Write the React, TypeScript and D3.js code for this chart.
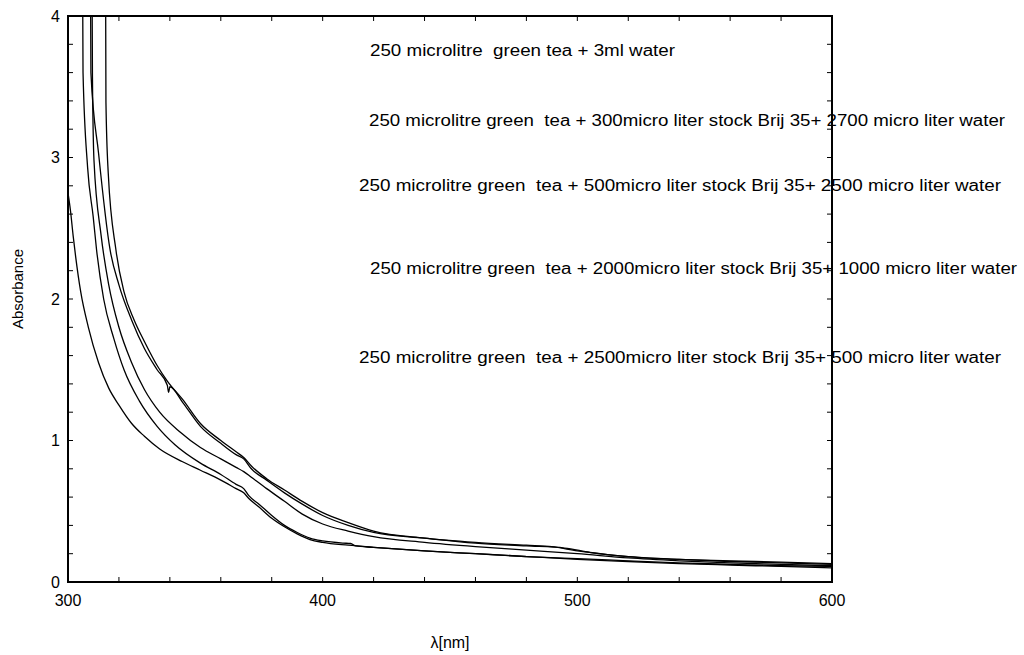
import React from 'react';
import * as d3 from 'd3';

// absorbance spectra, [wavelength nm, absorbance]
const spectrumA: [number, number][] = [
  [300, 2.75], [301, 2.62], [302, 2.45], [303, 2.3], [305, 2.05], [308, 1.8], [312, 1.55],
  [316, 1.37], [320, 1.25], [325, 1.12], [330, 1.03], [336, 0.94], [345, 0.85], [352, 0.79],
  [360, 0.72], [366, 0.66], [369, 0.63], [371, 0.59], [375, 0.53], [380, 0.45], [385, 0.39],
  [390, 0.34], [395, 0.3], [400, 0.28], [410, 0.26], [420, 0.245], [440, 0.22], [460, 0.2],
  [480, 0.18], [500, 0.16], [520, 0.145], [540, 0.13], [560, 0.12], [580, 0.11], [600, 0.1],
];
const spectrumB: [number, number][] = [
  [305.8, 4.0], [305.9, 3.6], [307.7, 2.93], [309.9, 2.58], [311.2, 2.35], [314, 2.0],
  [318, 1.72], [322, 1.5], [328, 1.28], [335, 1.1], [342, 0.97], [352, 0.84], [360, 0.76],
  [366, 0.69], [369, 0.66], [371, 0.61], [375, 0.55], [380, 0.47], [385, 0.4], [390, 0.35],
  [395, 0.31], [400, 0.29], [408, 0.275], [411, 0.272], [413, 0.255], [420, 0.245],
  [440, 0.22], [460, 0.2], [480, 0.18], [500, 0.165], [520, 0.15], [540, 0.135],
  [560, 0.125], [580, 0.115], [600, 0.11],
];
const spectrumC: [number, number][] = [
  [309.5, 4.0], [309.6, 3.57], [310.2, 2.98], [313, 2.45], [316, 2.1], [320, 1.8], [325, 1.55],
  [330, 1.36], [336, 1.2], [344, 1.06], [352, 0.95], [360, 0.87], [366, 0.81], [369, 0.78],
  [372, 0.74], [378, 0.66], [385, 0.57], [392, 0.48], [400, 0.41], [410, 0.36], [420, 0.32],
  [440, 0.28], [460, 0.25], [480, 0.225], [500, 0.2], [520, 0.17], [540, 0.15], [560, 0.135],
  [580, 0.125], [600, 0.115],
];
const spectrumD: [number, number][] = [
  [308.9, 4.0], [309, 3.6], [312, 3.03], [316.5, 2.35], [320, 2.1], [325, 1.85], [330, 1.65],
  [335, 1.5], [339, 1.39], [339.5, 1.34], [340, 1.38], [345, 1.27], [352, 1.1], [360, 0.98],
  [366, 0.9], [369, 0.87], [372, 0.8], [378, 0.72], [385, 0.63], [392, 0.55], [400, 0.47],
  [410, 0.4], [420, 0.35], [440, 0.31], [460, 0.275], [480, 0.255], [495, 0.24], [505, 0.21],
  [520, 0.18], [540, 0.16], [560, 0.145], [580, 0.135], [600, 0.125],
];
const spectrumE: [number, number][] = [
  [314.8, 4.0], [314.9, 3.39], [315.8, 2.89], [318.8, 2.35], [322, 2.05], [326, 1.85],
  [330, 1.7], [335, 1.53], [339, 1.42], [345, 1.29], [352, 1.12], [360, 1.0], [366, 0.92],
  [369, 0.88], [372, 0.82], [378, 0.73], [385, 0.65], [392, 0.57], [400, 0.49], [410, 0.42],
  [420, 0.36], [440, 0.31], [460, 0.28], [480, 0.26], [490, 0.25], [500, 0.22], [520, 0.18],
  [540, 0.16], [560, 0.15], [580, 0.14], [600, 0.13],
];
const spectra = [spectrumA, spectrumB, spectrumC, spectrumD, spectrumE];

const xTickLabels = [300, 400, 500, 600];
const yTickLabels = [0, 1, 2, 3, 4];

const notes = [
  '250 microlitre  green tea + 3ml water',
  '250 microlitre green  tea + 300micro liter stock Brij 35+ 2700 micro liter water',
  '250 microlitre green  tea + 500micro liter stock Brij 35+ 2500 micro liter water',
  '250 microlitre green  tea + 2000micro liter stock Brij 35+ 1000 micro liter water',
  '250 microlitre green  tea + 2500micro liter stock Brij 35+ 500 micro liter water',
];
// where each note sits: left x, centre y, width in px
const notePos = [
  [370, 50, 305],
  [369, 120, 636],
  [359, 185, 642],
  [370, 268, 647],
  [359, 357, 642],
];

export default function App() {
  const W = 1024;
  const H = 655;
  const left = 68, right = 832, top = 16, bottom = 582;

  const x = d3.scaleLinear().domain([300, 600]).range([left, right]);
  const y = d3.scaleLinear().domain([0, 4]).range([bottom, top]);

  const line = d3.line<[number, number]>()
    .x(d => x(d[0]))
    .y(d => y(d[1]))
    .curve(d3.curveMonotoneX);

  const xMinor = d3.range(300, 601, 20);
  const yMinor = d3.range(0, 4.001, 0.2);
  const font = 'Liberation Sans, Arial, sans-serif';

  return (
    <svg width={W} height={H} style={{ position: 'absolute', left: 0, top: 0, background: '#fff' }}>
      <defs>
        <clipPath id="plot">
          <rect x={left} y={top} width={right - left} height={bottom - top} />
        </clipPath>
      </defs>

      {/* ticks, inward on all four sides */}
      {xMinor.map(v => (
        <g key={'xt' + v}>
          <line x1={x(v)} x2={x(v)} y1={bottom} y2={bottom - 5} stroke="#000" />
          <line x1={x(v)} x2={x(v)} y1={top} y2={top + 5} stroke="#000" />
        </g>
      ))}
      {yMinor.map(v => (
        <g key={'yt' + v}>
          <line x1={left} x2={left + 5} y1={y(v)} y2={y(v)} stroke="#000" />
          <line x1={right} x2={right - 5} y1={y(v)} y2={y(v)} stroke="#000" />
        </g>
      ))}

      <g clipPath="url(#plot)">
        {spectra.map((s, i) => (
          <path key={i} d={line(s) || ''} fill="none" stroke="#000" strokeWidth={1.3} />
        ))}
      </g>

      <rect x={left} y={top} width={right - left} height={bottom - top}
        fill="none" stroke="#000" strokeWidth={2} />

      {xTickLabels.map(v => (
        <text key={'xl' + v} x={x(v)} y={bottom + 24} textAnchor="middle"
          fontFamily={font} fontSize={16} fill="#000">{v}</text>
      ))}
      {yTickLabels.map(v => (
        <text key={'yl' + v} x={left - 8} y={y(v)} dy="0.35em" textAnchor="end"
          fontFamily={font} fontSize={16} fill="#000">{v}</text>
      ))}

      <text x={450} y={648} textAnchor="middle" fontFamily={font} fontSize={16} fill="#000">λ[nm]</text>
      <text transform="translate(23,289) rotate(-90)" textAnchor="middle"
        fontFamily={font} fontSize={15} fill="#000">Absorbance</text>

      {notes.map((t, i) => (
        <text key={'n' + i} x={notePos[i][0]} y={notePos[i][1]} dy="0.35em"
          textLength={notePos[i][2]} lengthAdjust="spacingAndGlyphs"
          style={{ whiteSpace: 'pre' }}
          fontFamily={font} fontSize={16} fill="#000">{t}</text>
      ))}
    </svg>
  );
}
